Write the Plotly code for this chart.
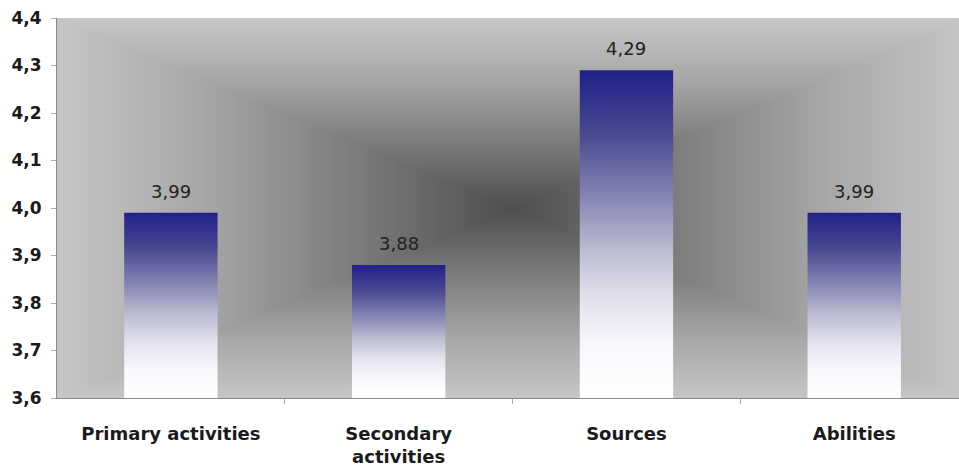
import numpy as np
import plotly.graph_objects as go

categories = ["Primary activities", "Secondary<br>activities", "Sources", "Abilities"]
values = [3.99, 3.88, 4.29, 3.99]
value_labels = ["3,99", "3,88", "4,29", "3,99"]
y_ticks = [3.6, 3.7, 3.8, 3.9, 4.0, 4.1, 4.2, 4.3, 4.4]
y_tick_labels = ["3,6", "3,7", "3,8", "3,9", "4,0", "4,1", "4,2", "4,3", "4,4"]

Y0, Y1 = 3.6, 4.4
X0, X1 = -0.5, 3.46   # right side of the plot area is cut by the frame
XC = 1.5
BAR_W = 0.41

fig = go.Figure()

# background: rectangular "from center" gray gradient
nx, ny = 240, 120
gx = np.linspace(X0, X1, nx)
gy = np.linspace(Y0, Y1, ny)
U = np.abs((gx[None, :] - XC) / 2.0)
V = np.abs((gy[:, None] - (Y0 + Y1) / 2) / ((Y1 - Y0) / 2))
Z = np.maximum(U, V)
fig.add_trace(go.Heatmap(
    x=gx, y=gy, z=Z, zsmooth="best", showscale=False, hoverinfo="skip",
    zmin=0, zmax=1,
    colorscale=[[0, "#4e4e4e"], [0.35, "#7c7c7c"], [0.7, "#a9a9a9"], [1, "#c6c6c6"]],
))

# gradient bars
for i, v in enumerate(values):
    xl, xr = i - BAR_W / 2, i + BAR_W / 2
    fig.add_trace(go.Scatter(
        x=[xl, xr, xr, xl, xl], y=[Y0, Y0, v, v, Y0],
        mode="lines", fill="toself", line=dict(width=0),
        fillgradient=dict(
            type="vertical",
            colorscale=[[0, "#ffffff"], [0.15, "#f8f8fc"], [0.3, "#e2e2ee"],
                        [0.45, "#bcbcd2"], [0.6, "#8a8ab6"], [0.8, "#4a4a92"],
                        [1, "#20208a"]],
        ),
        hoverinfo="skip", showlegend=False,
    ))
    fig.add_annotation(x=i, y=v, text=value_labels[i], showarrow=False,
                       yanchor="bottom", yshift=9,
                       font=dict(family="DejaVu Sans", size=18, color="#222222"))

fig.update_layout(
    width=959, height=470,
    margin=dict(l=57, r=0, t=18, b=72),
    paper_bgcolor="white", plot_bgcolor="#b0b0b0",
    showlegend=False,
    xaxis=dict(range=[X0, X1], tickvals=list(range(len(categories))), ticktext=categories,
               showgrid=False, zeroline=False, ticks="", ticklabelstandoff=19,
               showline=True, linecolor="#8a8a8a", linewidth=1,
               minor=dict(tickvals=[0.5, 1.5, 2.5], ticks="outside", ticklen=5, tickcolor="#aaaaaa"),
               tickfont=dict(family="DejaVu Sans", size=18, color="#1a1a1a", weight="bold")),
    yaxis=dict(range=[Y0, Y1], tickvals=y_ticks, ticktext=y_tick_labels,
               showgrid=True, gridcolor="#848484", gridwidth=1, zeroline=False,
               ticks="outside", ticklen=5, tickcolor="#aaaaaa", ticklabelstandoff=6,
               showline=True, linecolor="#8a8a8a", linewidth=1,
               tickfont=dict(family="DejaVu Sans", size=17, color="#1a1a1a", weight="bold")),
)

fig.write_html("out.html")
